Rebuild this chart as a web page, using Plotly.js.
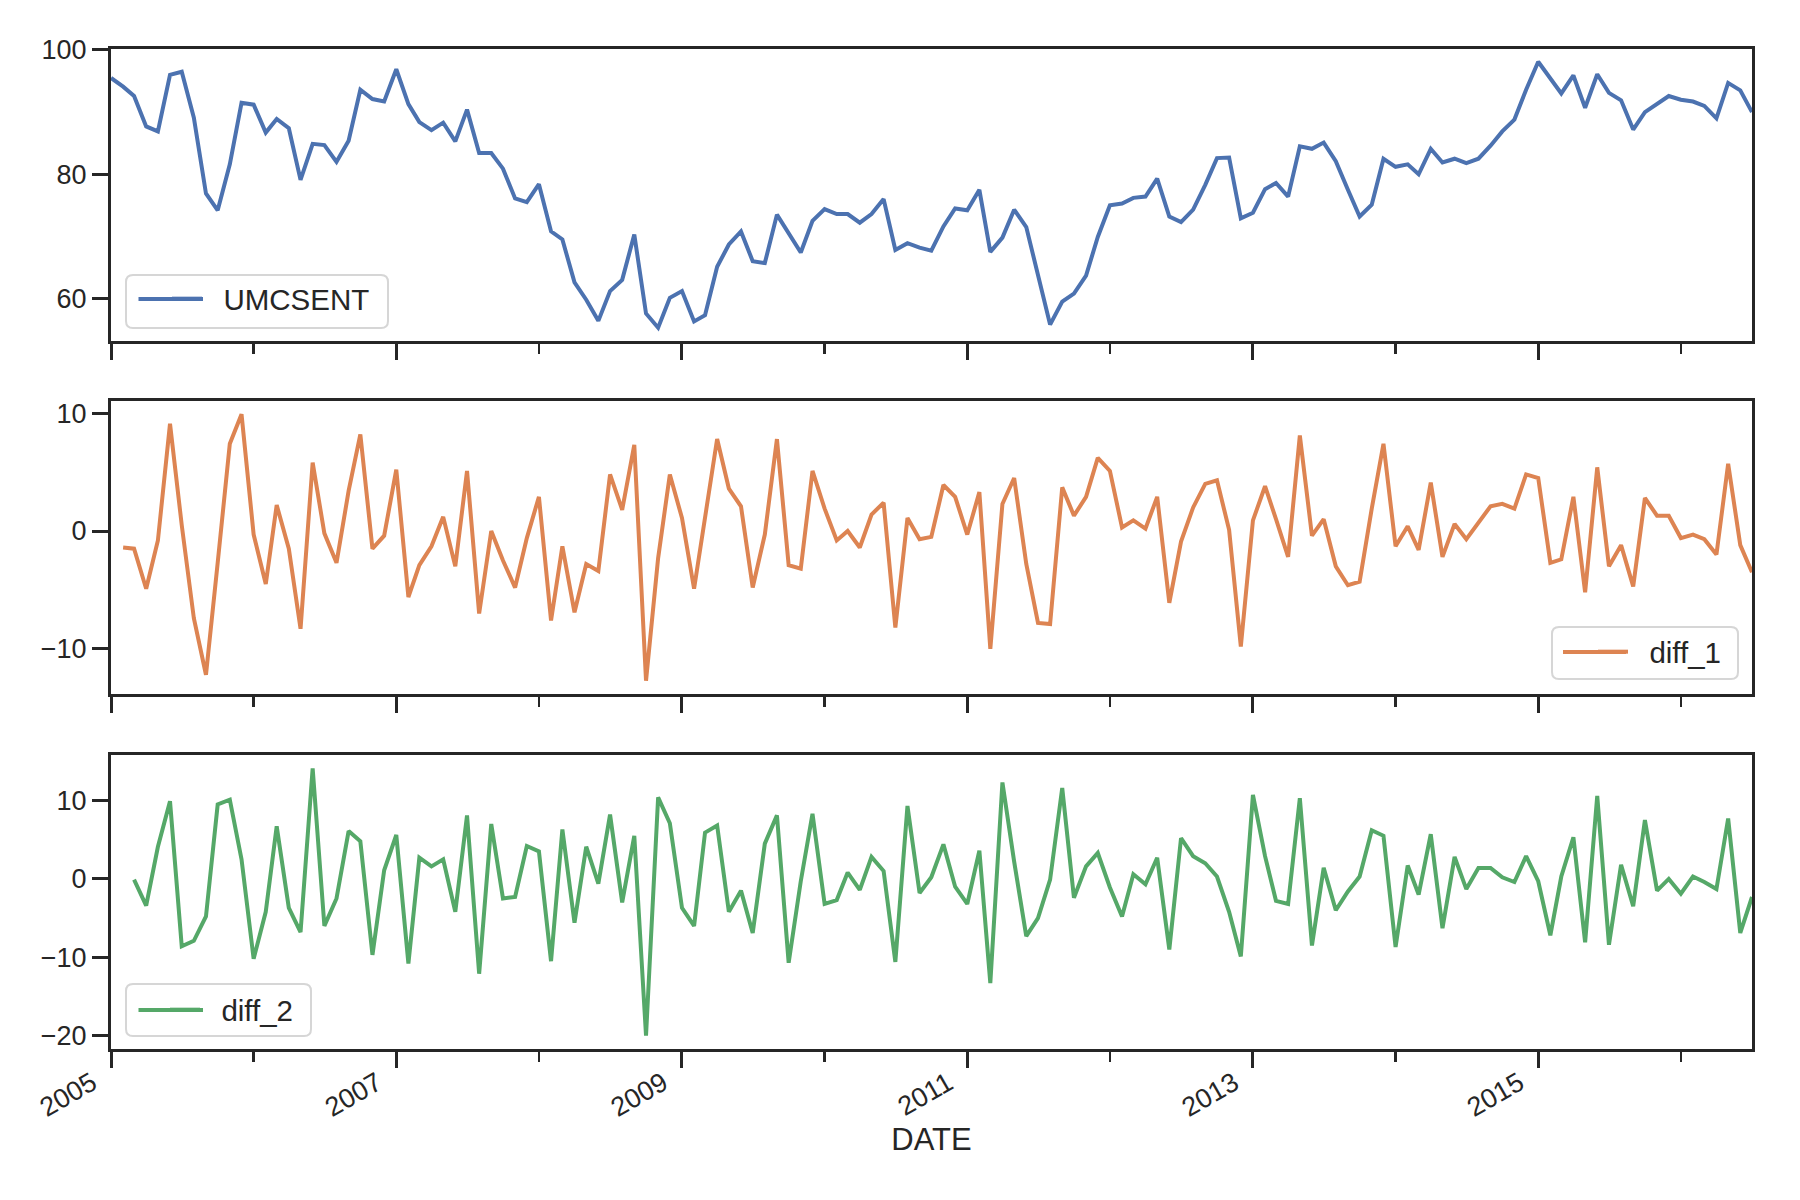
<!DOCTYPE html>
<html>
<head>
<meta charset="utf-8">
<script src="https://cdn.plot.ly/plotly-3.0.1.min.js"></script>
<style>html,body{margin:0;padding:0;background:#fff;}#chart{width:1800px;height:1200px;}</style>
</head>
<body>
<div id="chart"></div>
<script>
// Monthly series, January 2005 .. July 2016
const umcsent = [
  95.5, 94.1, 92.6, 87.7, 86.9, 96.0, 96.5, 89.1, 76.9, 74.2, 81.6, 91.5,
  91.2, 86.7, 88.9, 87.4, 79.1, 84.9, 84.7, 82.0, 85.4, 93.6, 92.1, 91.7,
  96.9, 91.3, 88.4, 87.1, 88.3, 85.3, 90.4, 83.4, 83.4, 80.9, 76.1, 75.5,
  78.4, 70.8, 69.5, 62.6, 59.8, 56.4, 61.2, 63.0, 70.3, 57.6, 55.3, 60.1,
  61.2, 56.3, 57.3, 65.1, 68.7, 70.8, 66.0, 65.7, 73.5, 70.6, 67.4, 72.5,
  74.4, 73.6, 73.6, 72.2, 73.6, 76.0, 67.8, 68.9, 68.2, 67.7, 71.6, 74.5,
  74.2, 77.5, 67.5, 69.8, 74.3, 71.5, 63.7, 55.8, 59.5, 60.8, 63.7, 69.9,
  75.0, 75.3, 76.2, 76.4, 79.3, 73.2, 72.3, 74.3, 78.3, 82.6, 82.7, 72.9,
  73.8, 77.6, 78.6, 76.4, 84.5, 84.1, 85.1, 82.1, 77.5, 73.2, 75.1, 82.5,
  81.2, 81.6, 80.0, 84.1, 81.9, 82.5, 81.8, 82.5, 84.6, 86.9, 88.8, 93.6,
  98.1, 95.4, 93.0, 95.9, 90.7, 96.1, 93.1, 91.9, 87.2, 90.0, 91.3, 92.6,
  92.0, 91.7, 91.0, 89.0, 94.7, 93.5, 90.0
];
// February 2005 .. July 2016
const diff1 = [
        -1.4, -1.5, -4.9, -0.8, 9.1, 0.5, -7.4, -12.2, -2.7, 7.4, 9.9,
  -0.3, -4.5, 2.2, -1.5, -8.3, 5.8, -0.2, -2.7, 3.4, 8.2, -1.5, -0.4,
  5.2, -5.6, -2.9, -1.3, 1.2, -3.0, 5.1, -7.0, 0.0, -2.5, -4.8, -0.6,
  2.9, -7.6, -1.3, -6.9, -2.8, -3.4, 4.8, 1.8, 7.3, -12.7, -2.3, 4.8,
  1.1, -4.9, 1.0, 7.8, 3.6, 2.1, -4.8, -0.3, 7.8, -2.9, -3.2, 5.1,
  1.9, -0.8, 0.0, -1.4, 1.4, 2.4, -8.2, 1.1, -0.7, -0.5, 3.9, 2.9,
  -0.3, 3.3, -10.0, 2.3, 4.5, -2.8, -7.8, -7.9, 3.7, 1.3, 2.9, 6.2,
  5.1, 0.3, 0.9, 0.2, 2.9, -6.1, -0.9, 2.0, 4.0, 4.3, 0.1, -9.8,
  0.9, 3.8, 1.0, -2.2, 8.1, -0.4, 1.0, -3.0, -4.6, -4.3, 1.9, 7.4,
  -1.3, 0.4, -1.6, 4.1, -2.2, 0.6, -0.7, 0.7, 2.1, 2.3, 1.9, 4.8,
  4.5, -2.7, -2.4, 2.9, -5.2, 5.4, -3.0, -1.2, -4.7, 2.8, 1.3, 1.3,
  -0.6, -0.3, -0.7, -2.0, 5.7, -1.2, -3.5
];
// March 2005 .. July 2016
const diff2 = [
              -0.1, -3.4, 4.1, 9.9, -8.6, -7.9, -4.8, 9.5, 10.1, 2.5,
  -10.2, -4.2, 6.7, -3.7, -6.8, 14.1, -6.0, -2.5, 6.1, 4.8, -9.7, 1.1,
  5.6, -10.8, 2.7, 1.6, 2.5, -4.2, 8.1, -12.1, 7.0, -2.5, -2.3, 4.2,
  3.5, -10.5, 6.3, -5.6, 4.1, -0.6, 8.2, -3.0, 5.5, -20.0, 10.4, 7.1,
  -3.7, -6.0, 5.9, 6.8, -4.2, -1.5, -6.9, 4.5, 8.1, -10.7, -0.3, 8.3,
  -3.2, -2.7, 0.8, -1.4, 2.8, 1.0, -10.6, 9.3, -1.8, 0.2, 4.4, -1.0,
  -3.2, 3.6, -13.3, 12.3, 2.2, -7.3, -5.0, -0.1, 11.6, -2.4, 1.6, 3.3,
  -1.1, -4.8, 0.6, -0.7, 2.7, -9.0, 5.2, 2.9, 2.0, 0.3, -4.2, -9.9,
  10.7, 2.9, -2.8, -3.2, 10.3, -8.5, 1.4, -4.0, -1.6, 0.3, 6.2, 5.5,
  -8.7, 1.7, -2.0, 5.7, -6.3, 2.8, -1.3, 1.4, 1.4, 0.2, -0.4, 2.9,
  -0.3, -7.2, 0.3, 5.3, -8.1, 10.6, -8.4, 1.8, -3.5, 7.5, -1.5, 0.0,
  -1.9, 0.3, -0.4, -1.3, 7.7, -6.9, -2.3
];
const seriesNames = ['UMCSENT', 'diff_1', 'diff_2'];
const majorTickVals = ['2005-01-01', '2007-01-01', '2009-01-01', '2011-01-01', '2013-01-01', '2015-01-01'];
const majorTickText = ['2005', '2007', '2009', '2011', '2013', '2015'];
const y1Ticks = [60, 80, 100];
const y2Ticks = [-10, 0, 10];
const y3Ticks = [-20, -10, 0, 10];

function monthDates(startYear, startMonth, n) {
  const out = [];
  for (let i = 0; i < n; i++) {
    const m = startMonth - 1 + i;
    const y = startYear + Math.floor(m / 12);
    const mm = (m % 12) + 1;
    out.push(y + '-' + String(mm).padStart(2, '0') + '-01');
  }
  return out;
}
const dates0 = monthDates(2005, 1, umcsent.length);
const dates1 = monthDates(2005, 2, diff1.length);
const dates2 = monthDates(2005, 3, diff2.length);

function paddedRange(arr) {
  const mn = Math.min(...arr), mx = Math.max(...arr);
  const pad = (mx - mn) * 0.05;
  return [mn - pad, mx + pad];
}

const W = 1800, H = 1200;
const px = v => v / W;
const py = v => 1 - v / H;

const colors = ['#4C72B0', '#DD8452', '#55A868'];
const ink = '#262626';
const FONT = 'Liberation Sans, Arial, sans-serif';
const TICK_SIZE = 27;
const LEGEND_SIZE = 29.5;
const LINE_W = 4;
const GAP = '\u00a0\u00a0';   // spacing between legend line sample and label

const traces = [
  {x: dates0, y: umcsent, name: GAP + seriesNames[0], type: 'scatter', mode: 'lines',
   line: {color: colors[0], width: LINE_W}, xaxis: 'x', yaxis: 'y', legend: 'legend'},
  {x: dates1, y: diff1, name: GAP + seriesNames[1], type: 'scatter', mode: 'lines',
   line: {color: colors[1], width: LINE_W}, xaxis: 'x2', yaxis: 'y2', legend: 'legend2'},
  {x: dates2, y: diff2, name: GAP + seriesNames[2], type: 'scatter', mode: 'lines',
   line: {color: colors[2], width: LINE_W}, xaxis: 'x3', yaxis: 'y3', legend: 'legend3'}
];

const xDomain = [px(111), px(1752)];
const xRange = [dates0[0], dates0[dates0.length - 1]];

function xAxis(anchor, labels) {
  return {
    domain: xDomain, anchor: anchor, type: 'date', range: xRange,
    tickmode: 'array', tickvals: majorTickVals, ticktext: majorTickText,
    showticklabels: labels, tickangle: -30,
    ticklabelstandoff: -11, ticklabelshift: -19,
    ticks: 'outside', ticklen: 16, tickwidth: 3, tickcolor: ink,
    minor: {tickmode: 'linear', tick0: '2006-01-01', dtick: 'M12', ticks: 'outside',
            ticklen: 10, tickwidth: 2.5, tickcolor: ink, showgrid: false},
    showline: true, linecolor: ink, linewidth: 3, mirror: true,
    showgrid: false, zeroline: false,
    tickfont: {family: FONT, size: TICK_SIZE, color: ink}
  };
}
function yAxis(anchor, dom, rng, tv) {
  return {
    domain: dom, anchor: anchor, range: rng,
    tickmode: 'array', tickvals: tv,
    ticks: 'outside', ticklen: 16, tickwidth: 3, tickcolor: ink,
    showline: true, linecolor: ink, linewidth: 3, mirror: true,
    showgrid: false, zeroline: false,
    tickfont: {family: FONT, size: TICK_SIZE, color: ink}
  };
}

function roundRect(x0, y0, x1, y1, r) {
  const P = (x, y) => px(x) + ',' + py(y);
  return 'M' + P(x0 + r, y0) + ' L' + P(x1 - r, y0) + ' Q' + P(x1, y0) + ' ' + P(x1, y0 + r) +
         ' L' + P(x1, y1 - r) + ' Q' + P(x1, y1) + ' ' + P(x1 - r, y1) +
         ' L' + P(x0 + r, y1) + ' Q' + P(x0, y1) + ' ' + P(x0, y1 - r) +
         ' L' + P(x0, y0 + r) + ' Q' + P(x0, y0) + ' ' + P(x0 + r, y0) + ' Z';
}
const boxStyle = {type: 'path', xref: 'paper', yref: 'paper', layer: 'above',
  fillcolor: 'rgba(255,255,255,0.85)', line: {color: '#d6d6d6', width: 2}};
function sampleLine(x0, x1, y, color) {
  return {type: 'line', xref: 'paper', yref: 'paper', layer: 'above',
    x0: px(x0), x1: px(x1), y0: py(y), y1: py(y), line: {color: color, width: LINE_W}};
}

function legendAt(xpx, ypx) {
  return {x: px(xpx), y: py(ypx), xanchor: 'left', yanchor: 'middle',
    bgcolor: 'rgba(0,0,0,0)', borderwidth: 0, itemwidth: 30,
    font: {family: FONT, size: LEGEND_SIZE, color: ink}};
}

const layout = {
  width: W, height: H,
  margin: {l: 0, r: 0, t: 0, b: 0},
  paper_bgcolor: '#ffffff', plot_bgcolor: '#ffffff',
  showlegend: true,
  xaxis: xAxis('y', false),
  xaxis2: xAxis('y2', false),
  xaxis3: Object.assign(xAxis('y3', true), {
    title: {text: 'DATE', font: {family: FONT, size: 31, color: ink}, standoff: 4}
  }),
  yaxis: yAxis('x', [py(341), py(48.5)], paddedRange(umcsent), y1Ticks),
  yaxis2: yAxis('x2', [py(694), py(401)], paddedRange(diff1), y2Ticks),
  yaxis3: yAxis('x3', [py(1049), py(755)], paddedRange(diff2), y3Ticks),
  legend: legendAt(167, 299),
  legend2: legendAt(1593, 652),
  legend3: legendAt(165, 1010),
  shapes: [
    Object.assign({path: roundRect(126, 275, 388, 328, 7)}, boxStyle),
    Object.assign({path: roundRect(1552, 627, 1738, 679, 7)}, boxStyle),
    Object.assign({path: roundRect(126, 984, 311, 1036, 7)}, boxStyle),
    sampleLine(138.5, 203, 299, colors[0]),
    sampleLine(1563, 1626, 652, colors[1]),
    sampleLine(138.5, 203, 1010, colors[2])
  ]
};

Plotly.newPlot('chart', traces, layout, {staticPlot: true, displayModeBar: false});
</script>
</body>
</html>
